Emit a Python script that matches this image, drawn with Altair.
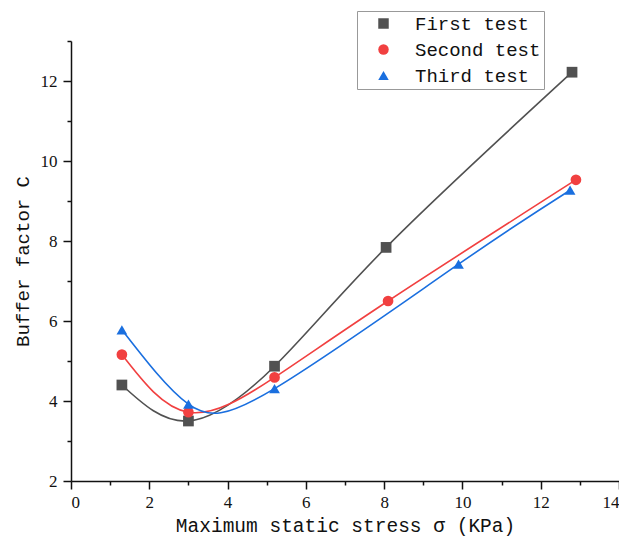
import altair as alt
import pandas as pd

# ---- data ----
series_names = ["First test", "Second test", "Third test"]
first_x = [1.3, 3.0, 5.2, 8.05, 12.8]
first_y = [4.40, 3.50, 4.87, 7.84, 12.22]
second_x = [1.3, 3.0, 5.2, 8.1, 12.9]
second_y = [5.16, 3.72, 4.59, 6.50, 9.53]
third_x = [1.3, 3.0, 5.2, 9.9, 12.75]
third_y = [5.78, 3.92, 4.31, 7.42, 9.27]

x_ticks = list(range(0, 15))
y_ticks = list(range(2, 14))

colors = ["#515151", "#F14040", "#1A6FDF"]
shapes = ["square", "circle", "triangle-up"]

rows = []
for name, xs, ys in zip(series_names, [first_x, second_x, third_x], [first_y, second_y, third_y]):
    for xv, yv in zip(xs, ys):
        rows.append({"series": name, "x": xv, "y": yv})
df = pd.DataFrame(rows)

mono = "Liberation Mono"
serif = "Liberation Serif"

x_axis = alt.Axis(
    values=x_ticks,
    labelExpr="datum.value % 2 === 0 ? datum.label : ''",
    tickSize={"condition": {"test": "datum.value % 2 === 1", "value": 4}, "value": 8},
    grid=False,
    title="Maximum static stress σ (KPa)",
    titleFont=mono, titleFontSize=19.5, titleFontWeight="normal", titleColor="#111",
    titlePadding=6,
    labelFont=serif, labelFontSize=17, labelColor="#111", labelPadding=5,
    labelFlush=True, labelFlushOffset=0,
    domainColor="#111", domainWidth=1.5, tickColor="#111", tickWidth=1.5,
)
y_axis = alt.Axis(
    values=y_ticks,
    labelExpr="datum.value % 2 === 0 ? datum.label : ''",
    tickSize={"condition": {"test": "datum.value % 2 === 1", "value": 4}, "value": 8},
    grid=False,
    title="Buffer factor C",
    titleFont=mono, titleFontSize=19, titleFontWeight="normal", titleColor="#111",
    titlePadding=8,
    labelFont=serif, labelFontSize=17, labelColor="#111", labelPadding=6,
    labelFlush=False,
    domainColor="#111", domainWidth=1.5, tickColor="#111", tickWidth=1.5,
)

X = alt.X("x:Q", scale=alt.Scale(domain=[0, 14], nice=False, zero=False), axis=x_axis)
Y = alt.Y("y:Q", scale=alt.Scale(domain=[2, 13], nice=False, zero=False), axis=y_axis)

# one smooth line per series (constant colour, no colour scale -> no disabled legend)
line_layers = []
for name, col in zip(series_names, colors):
    line_layers.append(
        alt.Chart(df).transform_filter(alt.datum.series == name).mark_line(
            interpolate="natural", strokeWidth=1.6, color=col
        ).encode(x=X, y=Y)
    )

leg = alt.Legend(
    orient="none", legendX=286, legendY=-30, title=None,
    padding=3, rowPadding=6, symbolSize=110, symbolOffset=14,
    labelFont=mono, labelFontSize=19, labelColor="#111", labelOffset=22, labelLimit=300,
    strokeColor="#999999", fillColor="white",
)

points = alt.Chart(df).mark_point(filled=True, opacity=1, size=115).encode(
    x=X, y=Y,
    color=alt.Color("series:N", scale=alt.Scale(domain=series_names, range=colors), legend=leg),
    shape=alt.Shape("series:N", scale=alt.Scale(domain=series_names, range=shapes), legend=leg),
)

chart = alt.layer(*line_layers, points).properties(
    width=548, height=440,
    background="white",
    autosize=alt.AutoSizeParams(type="none"),
    padding={"left": 63, "top": 33, "right": 0, "bottom": 58},
).configure_view(stroke=None)

chart.save("out.html", embed_options={"renderer": "svg", "actions": False})
